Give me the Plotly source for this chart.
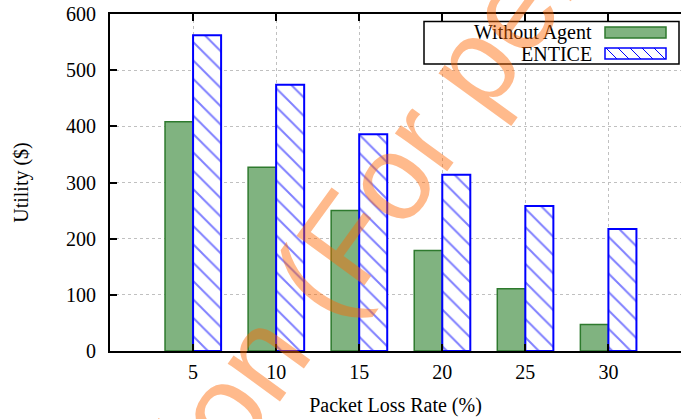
import plotly.graph_objects as go

loss_rate = [5, 10, 15, 20, 25, 30]
without_agent = [408, 327, 250, 179, 111, 47]
entice = [562, 474, 386, 314, 258, 217]
y_ticks = [0, 100, 200, 300, 400, 500, 600]
series_names = ["Without Agent", "ENTICE"]

SERIF = "Liberation Serif, Times New Roman, serif"
GREEN_FILL, GREEN_LINE, BLUE = "#80b380", "#2e7a2e", "#0000ff"

W, H = 681, 419
ML, MR, MT, MB = 110, 0, 14, 68
PW, PH = W - ML - MR, H - MT - MB


def px_x(X):
    return (X - ML) / PW


def px_y(Y):
    return (H - MB - Y) / PH


fig = go.Figure()
fig.add_trace(go.Bar(
    x=loss_rate, y=without_agent, name=series_names[0],
    marker=dict(color=GREEN_FILL, line=dict(color=GREEN_LINE, width=1.5)),
))
fig.add_trace(go.Bar(
    x=loss_rate, y=entice, name=series_names[1],
    marker=dict(color="white", line=dict(color=BLUE, width=2),
                pattern=dict(shape="\\", fgcolor=BLUE, bgcolor="white",
                             size=13, solidity=0.15)),
))

fig.update_layout(
    width=W, height=H,
    margin=dict(l=ML, r=MR, t=MT, b=MB),
    paper_bgcolor="white", plot_bgcolor="white",
    barmode="group", bargap=0.325, bargroupgap=0,
    font=dict(family=SERIF, size=20, color="black"),
    showlegend=False,
)
fig.update_xaxes(
    range=[0, 34.37], tickvals=loss_rate, ticktext=[str(v) for v in loss_rate],
    showline=True, linecolor="black", linewidth=2, mirror="ticks",
    ticks="inside", ticklen=7, tickwidth=1.5, tickcolor="black",
    showgrid=True, gridcolor="#c0c0c0", gridwidth=1, griddash="dot",
    zeroline=False, ticklabelstandoff=2,
    title=dict(text="Packet Loss Rate (%)", standoff=16,
               font=dict(family=SERIF, size=20)),
)
fig.update_yaxes(
    range=[0, 600], tickvals=y_ticks,
    showline=True, linecolor="black", linewidth=2, mirror=False,
    ticks="inside", ticklen=7, tickwidth=1.5, tickcolor="black",
    showgrid=True, gridcolor="#c0c0c0", gridwidth=1, griddash="dot",
    zeroline=False, ticklabelstandoff=8,
    title=dict(text="Utility ($)", standoff=32,
               font=dict(family=SERIF, size=20)),
)

# ---- gnuplot-style key: text right-aligned, swatch on the right ----
box = (424, 21.5, 679, 64)
fig.add_shape(type="rect", xref="paper", yref="paper",
              x0=px_x(box[0]), x1=px_x(box[2]), y0=px_y(box[3]), y1=px_y(box[1]),
              line=dict(color="black", width=1.5), fillcolor="white", layer="above")
sw_x0, sw_x1 = 605, 666
rows = [(27, 38), (48, 59)]
for i, (name, (ya, yb)) in enumerate(zip(series_names, rows)):
    fig.add_annotation(text=name, xref="paper", yref="paper",
                       x=px_x(594), y=px_y((ya + yb) / 2), xanchor="right",
                       yanchor="middle", showarrow=False,
                       font=dict(family=SERIF, size=20, color="black"))
    if i == 0:
        fig.add_shape(type="rect", xref="paper", yref="paper",
                      x0=px_x(sw_x0), x1=px_x(sw_x1), y0=px_y(yb), y1=px_y(ya),
                      line=dict(color=GREEN_LINE, width=1.5), fillcolor=GREEN_FILL)
    else:
        fig.add_shape(type="rect", xref="paper", yref="paper",
                      x0=px_x(sw_x0), x1=px_x(sw_x1), y0=px_y(yb), y1=px_y(ya),
                      line=dict(color=BLUE, width=1.5), fillcolor="white")
        h = yb - ya
        segs = []
        step = 12
        s = sw_x0 - h
        while s < sw_x1:
            xa, ya_ = s, ya
            xb, yb_ = s + h, yb
            if xa < sw_x0:
                ya_ = ya + (sw_x0 - xa)
                xa = sw_x0
            if xb > sw_x1:
                yb_ = yb - (xb - sw_x1)
                xb = sw_x1
            if xb > xa:
                segs.append(f"M{px_x(xa):.5f},{px_y(ya_):.5f} L{px_x(xb):.5f},{px_y(yb_):.5f}")
            s += step
        fig.add_shape(type="path", xref="paper", yref="paper", path=" ".join(segs),
                      line=dict(color=BLUE, width=1))

fig.add_annotation(
    text="Version (For personal use only)", xref="paper", yref="paper",
    x=0.753, y=1.125, xanchor="center", yanchor="middle",
    textangle=-54, showarrow=False,
    font=dict(family="Liberation Sans, Arial, sans-serif", size=122,
              color="rgba(255,102,0,0.45)"),
)

fig.write_html("out.html")
